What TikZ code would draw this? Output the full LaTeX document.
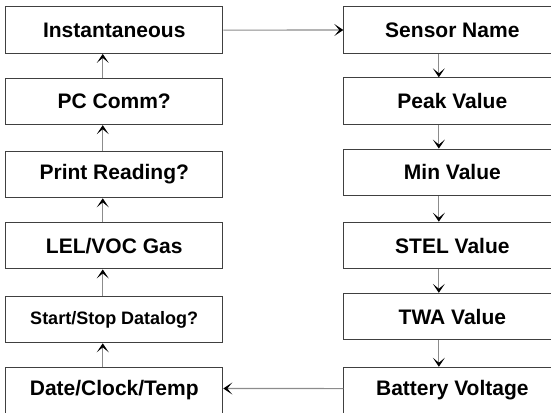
\documentclass[tikz,border=0pt]{standalone}
\usepackage{fontspec}
\setmainfont{Liberation Sans}
\usetikzlibrary{matrix,arrows.meta}

\tikzset{
  menu/.style={draw=black!75, line width=1.1pt, minimum width=217pt, minimum height=46.5pt,
    inner sep=0pt, font=\bfseries\fontsize{21}{25}\selectfont},
  flow/.style={draw=black!45, line width=1.1pt, -{Stealth[black, length=9pt, width=12pt, inset=5pt]}}
}

\begin{document}
\begin{tikzpicture}[x=1pt, y=1pt]
  \useasboundingbox (0,0) rectangle (551,-412);
  \clip (0,0) rectangle (551,-412);
  \matrix (m) [matrix of nodes, nodes={menu}, row sep=23.4pt, column sep=120pt,
    inner sep=0pt, anchor=north west] at (5,-6)
  {
    Instantaneous & Sensor Name \\
    PC Comm? & Peak Value \\
    Print Reading? & Min Value \\
    LEL/VOC Gas & STEL Value \\
    |[font=\bfseries\fontsize{18}{22}\selectfont]| Start/Stop Datalog? & TWA Value \\
    Date/Clock/Temp & Battery Voltage \\
  };
  \path
  ([xshift=-11.5pt]m-6-1.north) edge[flow] ([xshift=-11.5pt]m-5-1.south)
  ([xshift=-11.5pt]m-5-1.north) edge[flow] ([xshift=-11.5pt]m-4-1.south)
  ([xshift=-11.5pt]m-4-1.north) edge[flow] ([xshift=-11.5pt]m-3-1.south)
  ([xshift=-11.5pt]m-3-1.north) edge[flow] ([xshift=-11.5pt]m-2-1.south)
  ([xshift=-11.5pt]m-2-1.north) edge[flow] ([xshift=-11.5pt]m-1-1.south)
  (m-1-1.east) edge[flow] (m-1-2.west)
  ([xshift=-13.5pt]m-1-2.south) edge[flow] ([xshift=-13.5pt]m-2-2.north)
  ([xshift=-13.5pt]m-2-2.south) edge[flow] ([xshift=-13.5pt]m-3-2.north)
  ([xshift=-13.5pt]m-3-2.south) edge[flow] ([xshift=-13.5pt]m-4-2.north)
  ([xshift=-13.5pt]m-4-2.south) edge[flow] ([xshift=-13.5pt]m-5-2.north)
  ([xshift=-13.5pt]m-5-2.south) edge[flow] ([xshift=-13.5pt]m-6-2.north)
  ([yshift=2pt]m-6-2.west) edge[flow] ([yshift=2pt]m-6-1.east)
  ;
\end{tikzpicture}
\end{document}
